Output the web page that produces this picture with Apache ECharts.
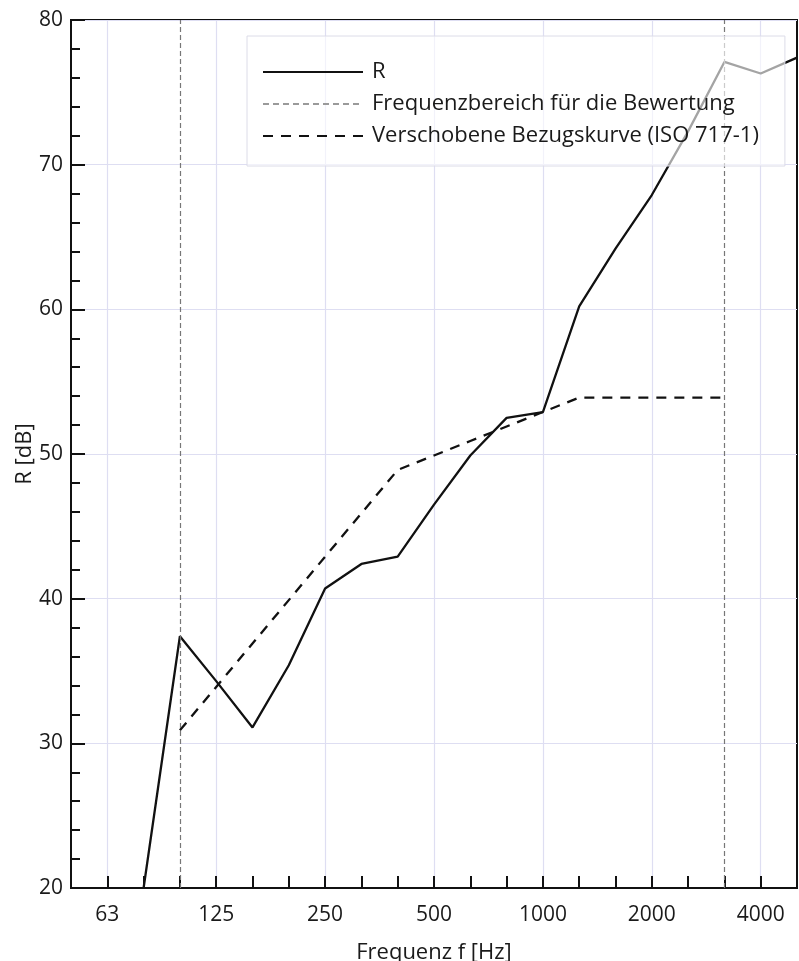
<!DOCTYPE html>
<html>
<head>
<meta charset="utf-8">
<script src="https://cdn.jsdelivr.net/npm/echarts@6/dist/echarts.min.js"></script>
<style>
html,body{margin:0;padding:0;background:#fff;}
#chart{width:799px;height:961px;}
</style>
</head>
<body>
<div id="chart"></div>
<script>
// Third-octave band centre frequencies (Hz)
var categories = ['50','63','80','100','125','160','200','250','315','400','500','630','800','1000','1250','1600','2000','2500','3150','4000','5000'];
// Octave labels shown on the x axis
var octaveLabels = ['63','125','250','500','1000','2000','4000'];
// Measured sound reduction index R [dB]
var rValues = [null,null,20,37.4,34.3,31.1,35.4,40.7,42.4,42.9,46.5,49.9,52.5,52.9,60.2,64.2,67.9,72.3,77.1,76.3,77.4];
// Shifted reference curve (ISO 717-1) [dB]
var refValues = [null,null,null,30.9,33.9,36.9,39.9,42.9,45.9,48.9,49.9,50.9,51.9,52.9,53.9,53.9,53.9,53.9,53.9,null,null];
// Evaluation frequency range limits
var rangeBounds = ['100','3150'];
var yTicks = {min:20, max:80, interval:10};

var FONT = 'Open Sans';
var TXT = '#1a1a1a';
var chart = echarts.init(document.getElementById('chart'));
chart.setOption({
  backgroundColor:'#ffffff',
  animation:false,
  grid:{left:71, right:2, top:20, bottom:73, show:true, borderColor:'#111', borderWidth:2,
        backgroundColor:'transparent', outerBoundsMode:'none', containLabel:false},
  legend:{
    orient:'vertical', left:247, top:36, z:10,
    padding:[25,26,19,15],
    itemWidth:100, itemHeight:14, itemGap:10,
    backgroundColor:'rgba(255,255,255,0.62)',
    borderColor:'#dcdce8', borderWidth:1, borderRadius:0,
    itemStyle:{color:'rgba(0,0,0,0)', borderWidth:0, opacity:0},
    textStyle:{fontFamily:FONT, fontSize:22, color:TXT, lineHeight:21, padding:[0,0,0,4]},
    data:['R','Frequenzbereich für die Bewertung','Verschobene Bezugskurve (ISO 717-1)']
  },
  xAxis:{
    type:'category', data:categories, boundaryGap:false,
    name:'Frequenz f [Hz]', nameLocation:'middle', nameGap:54, nameMoveOverlap:false,
    nameTextStyle:{fontFamily:FONT, fontSize:22, color:TXT},
    axisLine:{show:true, lineStyle:{color:'#111', width:2}},
    axisTick:{show:true, inside:true, length:12, interval:0, lineStyle:{color:'#111', width:2}},
    axisLabel:{fontFamily:FONT, fontSize:21, color:TXT, margin:17,
      interval:function(i,v){return octaveLabels.indexOf(v) >= 0;}},
    splitLine:{show:true, interval:function(i,v){return octaveLabels.indexOf(v) >= 0;},
      lineStyle:{color:'#dedef2', width:1.2}}
  },
  yAxis:{
    type:'value', min:yTicks.min, max:yTicks.max, interval:yTicks.interval,
    name:'R [dB]', nameLocation:'middle', nameGap:35, nameRotate:90, nameMoveOverlap:false,
    nameTextStyle:{fontFamily:FONT, fontSize:22, color:TXT},
    axisLine:{show:true, lineStyle:{color:'#111', width:2}},
    axisTick:{show:true, inside:true, length:14, lineStyle:{color:'#111', width:2}},
    minorTick:{show:true, splitNumber:5, length:9, lineStyle:{color:'#111', width:2}},
    axisLabel:{fontFamily:FONT, fontSize:21, color:TXT, margin:8},
    splitLine:{show:true, lineStyle:{color:'#dedef2', width:1.2}}
  },
  series:[
    {name:'R', type:'line', data:rValues, showSymbol:false, symbol:'none',
     connectNulls:false,
     lineStyle:{color:'#111', width:2.3}, itemStyle:{color:'#111'}},
    {name:'Frequenzbereich für die Bewertung', type:'line', data:[], symbol:'none',
     lineStyle:{color:'#9a9a9a', width:1.2, type:[6,4]}, itemStyle:{color:'#9a9a9a'},
     markLine:{silent:true, symbol:'none', label:{show:false},
       lineStyle:{color:'#777', width:1.2, type:[5,3]},
       data:rangeBounds.map(function(b){return {xAxis:b};})}},
    {name:'Verschobene Bezugskurve (ISO 717-1)', type:'line', data:refValues, symbol:'none',
     lineStyle:{color:'#111', width:2.3, type:[10,8]}, itemStyle:{color:'#111'}}
  ]
});
</script>
</body>
</html>
